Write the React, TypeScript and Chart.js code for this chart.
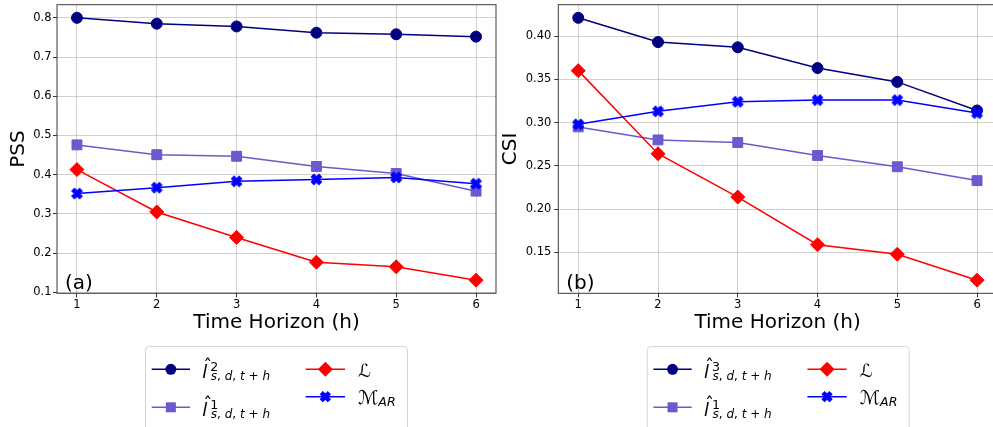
import React, { useEffect, useRef } from 'react';
import { Chart, registerables } from 'chart.js';

Chart.register(...registerables);

const FONT = "'DejaVu Sans', 'Liberation Sans', sans-serif";

// ---- data ----
const hours = [1, 2, 3, 4, 5, 6];
const xTicks = [1, 2, 3, 4, 5, 6];

const pssL2 = [0.800, 0.785, 0.778, 0.762, 0.758, 0.752];
const pssL1 = [0.476, 0.451, 0.447, 0.421, 0.403, 0.358];
const pssLoss = [0.413, 0.305, 0.240, 0.177, 0.165, 0.131];
const pssMar = [0.352, 0.367, 0.383, 0.388, 0.393, 0.377];
const pssTicks = [0.1, 0.2, 0.3, 0.4, 0.5, 0.6, 0.7, 0.8];

const csiL3 = [0.421, 0.393, 0.387, 0.363, 0.347, 0.314];
const csiL1 = [0.295, 0.280, 0.277, 0.262, 0.249, 0.233];
const csiLoss = [0.360, 0.264, 0.214, 0.159, 0.148, 0.118];
const csiMar = [0.298, 0.313, 0.324, 0.326, 0.326, 0.311];
const csiTicks = [0.15, 0.20, 0.25, 0.30, 0.35, 0.40];

const NAVY = '#000080';
const SLATE = '#6A5ACD';
const RED = '#FF0000';
const BLUE = '#0000FF';
const GRID = 'rgba(176,176,176,0.6)';
const TICK_SIZE = 11.5;

function makeXMarker(color: string, s: number) {
  const size = Math.ceil(s) + 4;
  const c = document.createElement('canvas');
  c.width = size;
  c.height = size;
  const ctx = c.getContext('2d')!;
  ctx.translate(size / 2, size / 2);
  ctx.rotate(Math.PI / 4);
  const a = s / 6;
  const h = s / 2;
  const pts = [[-a, -h], [a, -h], [a, -a], [h, -a], [h, a], [a, a], [a, h], [-a, h], [-a, a], [-h, a], [-h, -a], [-a, -a]];
  ctx.beginPath();
  pts.forEach(([px, py], i) => (i === 0 ? ctx.moveTo(px, py) : ctx.lineTo(px, py)));
  ctx.closePath();
  ctx.fillStyle = color;
  ctx.fill();
  ctx.strokeStyle = color;
  ctx.lineWidth = 1;
  ctx.stroke();
  return c;
}

const framePlugin = {
  id: 'frame',
  afterDatasetsDraw(chart: any, _args: any, opts: any) {
    const { ctx, chartArea } = chart;
    const { left, top, right, bottom } = chartArea;
    ctx.save();
    ctx.strokeStyle = '#3a3a3a';
    ctx.lineWidth = 1;
    ctx.strokeRect(left, top, right - left, bottom - top);
    ctx.font = `20px ${FONT}`;
    ctx.fillStyle = '#000';
    ctx.textBaseline = 'alphabetic';
    ctx.textAlign = 'left';
    ctx.fillText(opts.label, left + 8, bottom - 4.3);
    ctx.restore();
  },
};

function pad(min: number, max: number) {
  const r = max - min;
  return [min - 0.05 * r, max + 0.05 * r];
}

function buildConfig(p: {
  series: number[][];
  ticks: number[];
  decimals: number;
  yTitle: string;
  label: string;
  yWidth: number;
  rightPad: number;
  yTitlePad: number;
  tickPad: number;
  xMarker: HTMLCanvasElement;
}) {
  const all = p.series.flat();
  const [ymin, ymax] = pad(Math.min(...all), Math.max(...all));
  const styles = [
    { color: NAVY, pointStyle: 'circle', r: 5.5 },
    { color: SLATE, pointStyle: 'rect', r: 7 },
    { color: RED, pointStyle: 'rectRot', r: 7 },
    { color: BLUE, pointStyle: p.xMarker, r: 6 },
  ];
  const datasets = p.series.map((vals, i) => ({
    data: hours.map((h, j) => ({ x: h, y: vals[j] })),
    borderColor: styles[i].color,
    backgroundColor: styles[i].color,
    pointBackgroundColor: styles[i].color,
    pointBorderColor: styles[i].color,
    pointStyle: styles[i].pointStyle as any,
    pointRadius: styles[i].r,
    pointHoverRadius: styles[i].r,
    pointBorderWidth: 1,
    borderWidth: 1.5,
    tension: 0,
    order: 4 - i,
  }));
  return {
    type: 'line' as const,
    data: { datasets },
    plugins: [framePlugin],
    options: {
      responsive: false,
      animation: false as const,
      events: [],
      layout: { autoPadding: false, padding: { left: 0, top: 4.7, right: p.rightPad, bottom: 0 } },
      plugins: {
        legend: { display: false },
        tooltip: { enabled: false },
        frame: { label: p.label },
      },
      scales: {
        x: {
          type: 'linear' as const,
          min: 0.75,
          max: 6.25,
          afterBuildTicks: (s: any) => {
            s.ticks = xTicks.map((v) => ({ value: v }));
          },
          afterFit: (s: any) => {
            s.height = 46.7;
            s.paddingLeft = 0;
            s.paddingRight = 0;
          },
          ticks: {
            autoSkip: false,
            maxRotation: 0,
            font: { family: FONT, size: TICK_SIZE },
            color: '#000',
            padding: 0.5,
            callback: (v: any) => String(v),
          },
          grid: { color: GRID, lineWidth: 1, tickColor: '#333', tickLength: 4, drawTicks: true },
          border: { display: false },
          title: {
            display: true,
            text: 'Time Horizon (h)',
            color: '#000',
            font: { family: FONT, size: 20, lineHeight: 1 },
            padding: { top: 0, bottom: 7.3 },
          },
        },
        y: {
          type: 'linear' as const,
          min: ymin,
          max: ymax,
          afterBuildTicks: (s: any) => {
            s.ticks = p.ticks.map((v) => ({ value: v }));
          },
          afterFit: (s: any) => {
            s.width = p.yWidth;
            s.paddingTop = 0;
            s.paddingBottom = 0;
          },
          ticks: {
            autoSkip: false,
            font: { family: FONT, size: TICK_SIZE },
            color: '#000',
            padding: p.tickPad,
            callback: (v: any) => Number(v).toFixed(p.decimals),
          },
          grid: { color: GRID, lineWidth: 1, tickColor: '#333', tickLength: 4, drawTicks: true },
          border: { display: false },
          title: {
            display: true,
            text: p.yTitle,
            color: '#000',
            font: { family: FONT, size: 20, lineHeight: 1 },
            padding: { top: p.yTitlePad, bottom: 0 },
          },
        },
      },
    },
  };
}

function XPath({ cx, cy, s, color }: { cx: number; cy: number; s: number; color: string }) {
  const a = s / 6;
  const h = s / 2;
  const pts = [[-a, -h], [a, -h], [a, -a], [h, -a], [h, a], [a, a], [a, h], [-a, h], [-a, a], [-h, a], [-h, -a], [-a, -a]];
  const d = pts.map(([x, y], i) => `${i === 0 ? 'M' : 'L'}${x},${y}`).join(' ') + ' Z';
  return <path d={d} transform={`translate(${cx},${cy}) rotate(45)`} fill={color} stroke={color} strokeWidth={1} />;
}

function HatL({ x, y, sup }: { x: number; y: number; sup: string }) {
  return (
    <g fontFamily={FONT} fill="#000">
      <text x={x} y={y + 8.5} fontSize={18} fontStyle="italic">l</text>
      <text x={x + 1} y={y + 3} fontSize={18}>ˆ</text>
      <text x={x + 8} y={y + 1.2} fontSize={12.6}>{sup}</text>
      <text x={x + 8.5} y={y + 11} fontSize={12}>
        <tspan fontStyle="italic">s</tspan>
        <tspan>, </tspan>
        <tspan fontStyle="italic">d</tspan>
        <tspan>, </tspan>
        <tspan fontStyle="italic">t</tspan>
        <tspan> + </tspan>
        <tspan fontStyle="italic">h</tspan>
      </text>
    </g>
  );
}

function Legend({ left, sup }: { left: number; sup: string }) {
  const o = left - 145;
  const r1 = 369.3;
  const r2a = 407.3;
  const r2b = 396.7;
  const c1a = 151.7 + o;
  const c1b = 190 + o;
  const c1m = (c1a + c1b) / 2;
  const c2a = 305.7 + o;
  const c2b = 345 + o;
  const c2m = (c2a + c2b) / 2;
  return (
    <g>
      <rect x={left + 0.5} y={346.5} width={262} height={110} rx={4} fill="#fff" stroke="#d4d4d4" strokeWidth={1} />
      <line x1={c1a} x2={c1b} y1={r1} y2={r1} stroke={NAVY} strokeWidth={1.5} />
      <circle cx={c1m} cy={r1} r={5.5} fill={NAVY} />
      <HatL x={202.3 + o} y={r1} sup={sup} />
      <line x1={c1a} x2={c1b} y1={r2a} y2={r2a} stroke={SLATE} strokeWidth={1.5} />
      <rect x={c1m - 5} y={r2a - 5} width={10} height={10} fill={SLATE} />
      <HatL x={202.3 + o} y={r2a} sup="1" />
      <line x1={c2a} x2={c2b} y1={r1} y2={r1} stroke={RED} strokeWidth={1.5} />
      <path d={`M${c2m - 7.5},${r1} L${c2m},${r1 - 7.5} L${c2m + 7.5},${r1} L${c2m},${r1 + 7.5} Z`} fill={RED} />
      <text x={358.3 + o} y={r1 + 7.4} fontFamily={FONT} fontSize={18} fill="#000">ℒ</text>
      <line x1={c2a} x2={c2b} y1={r2b} y2={r2b} stroke={BLUE} strokeWidth={1.5} />
      <XPath cx={c2m} cy={r2b} s={10.5} color={BLUE} />
      <text x={358 + o} y={r2b + 7.3} fontFamily={FONT} fontSize={19} fill="#000">
        <tspan>ℳ</tspan>
        <tspan fontSize={12.6} fontStyle="italic" dx={0} dy={2}>AR</tspan>
      </text>
    </g>
  );
}

export default function App() {
  const leftRef = useRef<HTMLCanvasElement>(null);
  const rightRef = useRef<HTMLCanvasElement>(null);

  useEffect(() => {
    const xm = makeXMarker(BLUE, 11);
    const left = new Chart(
      leftRef.current!,
      buildConfig({
        series: [pssL2, pssL1, pssLoss, pssMar],
        ticks: pssTicks,
        decimals: 1,
        yTitle: 'PSS',
        label: '(a)',
        yWidth: 57,
        rightPad: 4,
        yTitlePad: 9,
        tickPad: 1.5,
        xMarker: xm,
      }) as any
    );
    const right = new Chart(
      rightRef.current!,
      buildConfig({
        series: [csiL3, csiL1, csiLoss, csiMar],
        ticks: csiTicks,
        decimals: 2,
        yTitle: 'CSI',
        label: '(b)',
        yWidth: 58.3,
        rightPad: 0,
        yTitlePad: 0.6,
        tickPad: 3,
        xMarker: xm,
      }) as any
    );
    return () => {
      left.destroy();
      right.destroy();
    };
  }, []);

  return (
    <div
      style={{
        position: 'absolute',
        left: 0,
        top: 0,
        width: 993,
        height: 427,
        overflow: 'hidden',
        background: '#fff',
      }}
    >
      <canvas ref={leftRef} width={500} height={340} style={{ position: 'absolute', left: 0, top: 0 }} />
      <canvas ref={rightRef} width={497} height={340} style={{ position: 'absolute', left: 500, top: 0 }} />
      <svg width={993} height={427} style={{ position: 'absolute', left: 0, top: 0 }}>
        <Legend left={145} sup="2" />
        <Legend left={646.7} sup="3" />
      </svg>
    </div>
  );
}
